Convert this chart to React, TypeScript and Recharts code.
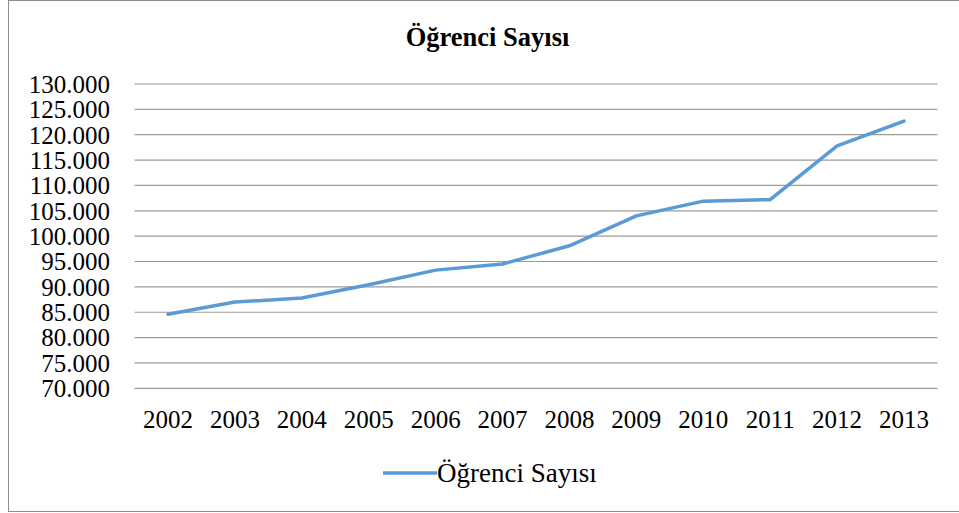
import { LineChart, Line, XAxis, YAxis, CartesianGrid, Legend } from "recharts";

const years = ["2002", "2003", "2004", "2005", "2006", "2007", "2008", "2009", "2010", "2011", "2012", "2013"];
const ogrenciSayisi = [84600, 87000, 87800, 90400, 93300, 94500, 98100, 104000, 106900, 107200, 117800, 122700];
const yTicks = [70000, 75000, 80000, 85000, 90000, 95000, 100000, 105000, 110000, 115000, 120000, 125000, 130000];

const SERIES_NAME = "Öğrenci Sayısı";
const LINE_COLOR = "#5b9bd5";
const FONT = '"Liberation Serif", "Times New Roman", serif';

const chartData = years.map((year, i) => ({ year, value: ogrenciSayisi[i] }));

// 130000 -> "130.000"
const formatTr = (v: number) => String(v).replace(/\B(?=(\d{3})+(?!\d))/g, ".");

function LegendContent() {
  return (
    <div style={{ display: "flex", alignItems: "center", height: 32 }}>
      <svg width={54} height={8} style={{ display: "block" }}>
        <line x1={0} y1={4} x2={54} y2={4} stroke={LINE_COLOR} strokeWidth={3.5} />
      </svg>
      <span style={{ fontSize: 27, lineHeight: "32px", color: "#000", fontFamily: FONT }}>
        {SERIES_NAME}
      </span>
    </div>
  );
}

export default function App() {
  return (
    <div
      style={{
        position: "absolute",
        left: 0,
        top: 0,
        width: 959,
        height: 513,
        overflow: "hidden",
        background: "#fff",
        fontFamily: FONT,
      }}
    >
      {/* chart frame, runs off the right edge like the screenshot */}
      <div
        style={{
          position: "absolute",
          left: 8,
          top: 0,
          width: 959,
          height: 510,
          border: "1.5px solid #8c8c8c",
        }}
      />
      <div
        style={{
          position: "absolute",
          left: 8,
          top: 24,
          width: 959,
          textAlign: "center",
          fontSize: 26.5,
          lineHeight: "26px",
          fontWeight: "bold",
          color: "#000",
        }}
      >
        {SERIES_NAME}
      </div>
      <div style={{ position: "absolute", left: 0, top: 0 }}>
        <LineChart
          width={959}
          height={513}
          data={chartData}
          margin={{ top: 84, right: 21.5, left: 0, bottom: 94.7 }}
        >
          <CartesianGrid vertical={false} stroke="#9a9a9a" strokeWidth={1.2} />
          <XAxis
            dataKey="year"
            height={30}
            axisLine={false}
            tickLine={false}
            tickSize={0}
            tickMargin={22}
            padding={{ left: 33.5, right: 33.5 }}
            interval={0}
            tick={{ fontSize: 25, fill: "#000" }}
          />
          <YAxis
            width={134.5}
            domain={[70000, 130000]}
            ticks={yTicks}
            interval={0}
            axisLine={false}
            tickLine={false}
            tickSize={0}
            tickMargin={24.5}
            tickFormatter={formatTr}
            tick={{ fontSize: 25, fill: "#000" }}
          />
          <Legend
            layout="horizontal"
            verticalAlign="middle"
            align="center"
            wrapperStyle={{ top: 457, left: 383, width: 300 }}
            content={() => <LegendContent />}
          />
          <Line
            type="linear"
            dataKey="value"
            name={SERIES_NAME}
            stroke={LINE_COLOR}
            strokeWidth={3.5}
            strokeLinecap="round"
            strokeLinejoin="round"
            dot={false}
            activeDot={false}
            isAnimationActive={false}
          />
        </LineChart>
      </div>
    </div>
  );
}
